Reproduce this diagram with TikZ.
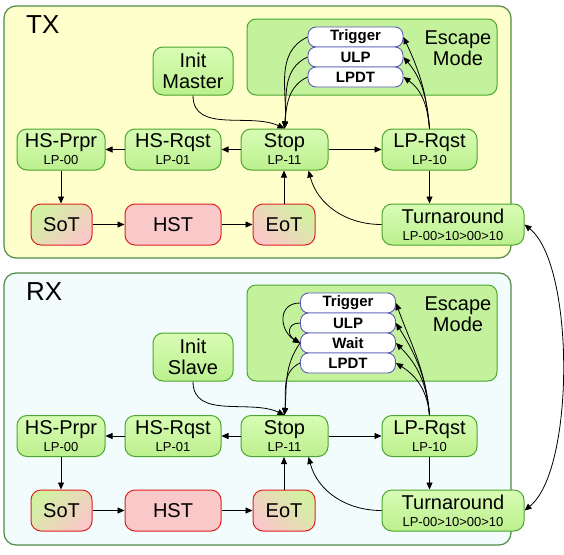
\documentclass[tikz,border=0pt]{standalone}
\usepackage{fontspec}
\setmainfont{Liberation Sans}
\usetikzlibrary{arrows.meta}

\definecolor{txbg}{HTML}{FFFFCC}
\definecolor{rxbg}{HTML}{F2FCFD}
\definecolor{panelborder}{HTML}{4F8A45}
\definecolor{gtop}{HTML}{D8FCB4}
\definecolor{gbot}{HTML}{BCF08E}
\definecolor{gborder}{HTML}{4AA62E}
\definecolor{rborder}{HTML}{E02020}
\definecolor{pinkfill}{HTML}{F9C8C8}
\definecolor{sotgreen}{HTML}{D2F2A2}
\definecolor{escfill}{HTML}{C4F29C}
\definecolor{entryborder}{HTML}{5A5AB8}

\newcommand\mainfs{\fontsize{20}{17}\selectfont}
\newcommand\subfs{\fontsize{13}{17}\selectfont}
\newcommand\twofs{\fontsize{20}{21}\selectfont}

\begin{document}
\begin{tikzpicture}[x=1pt,y=1pt,
  panel/.style={draw=panelborder, line width=1.2pt, rounded corners=12pt},
  gnode/.style={draw=gborder, top color=gtop, bottom color=gbot, line width=1pt, rounded corners=10pt,
    inner sep=0pt, align=center, font=\mainfs, minimum height=41pt},
  rnode/.style={draw=rborder, line width=1pt, rounded corners=10pt,
    inner sep=0pt, font=\mainfs, minimum height=41pt},
  sotshade/.style={top color=sotgreen, bottom color=pinkfill, shading angle=45},
  eotshade/.style={top color=sotgreen, bottom color=pinkfill, shading angle=-45},
  entry/.style={draw=entryborder, fill=white, line width=0.9pt, rounded corners=8pt,
    minimum width=95pt, minimum height=20pt, inner sep=0pt,
    font=\fontsize{15}{15}\selectfont\bfseries},
  escbox/.style={draw=gborder, fill=escfill, line width=1pt, rounded corners=9pt,
    minimum width=250pt, inner sep=0pt},
  esctext/.style={font=\twofs, align=center, inner sep=0pt},
  title/.style={anchor=base west, font=\fontsize{26}{30}\selectfont, inner sep=0pt},
  arr/.style={-{Triangle[length=7pt,width=6pt]}, line width=0.8pt},
  biarr/.style={{Triangle[length=7pt,width=6pt]}-{Triangle[length=7pt,width=6pt]}, line width=0.8pt}
]
\useasboundingbox (0,0) rectangle (564,-554);
\fill[white] (0,0) rectangle (564,-554);

% ================= TX =================
\draw[panel, fill=txbg] (4,-6) rectangle (511,-258);
\node[title] (txlabel) at (26,-33) {TX};
\node[escbox, minimum height=76pt] (txesc) at (372,-57) {};
\node[esctext] (txesclabel) at (458,-48) {Escape\\Mode};
\node[entry] (ttrig) at (355.5,-37) {Trigger};
\node[entry] (tulp) at (355.5,-57) {ULP};
\node[entry] (tlpdt) at (355.5,-77) {LPDT};

\node[gnode, minimum width=80pt, minimum height=48pt, font=\twofs] (tim) at (193,-71) {Init\\Master};
\node[gnode, minimum width=88pt] (thp) at (61,-149.5) {HS-Prpr\\{\subfs LP-00}};
\node[gnode, minimum width=96pt] (thr) at (173,-149.5) {HS-Rqst\\{\subfs LP-01}};
\node[gnode, minimum width=87pt] (tstop) at (284.5,-149.5) {Stop\\{\subfs LP-11}};
\node[gnode, minimum width=95pt] (tlpr) at (429.5,-149.5) {LP-Rqst\\{\subfs LP-10}};
\node[rnode, sotshade, minimum width=61pt] (tsot) at (61.5,-224.5) {SoT};
\node[rnode, fill=pinkfill, minimum width=96pt] (thst) at (173,-224.5) {HST};
\node[rnode, eotshade, minimum width=62pt] (teot) at (284,-224.5) {EoT};
\node[gnode, minimum width=142pt] (tta) at (453,-224.5) {Turnaround\\{\subfs LP-00>10>00>10}};

\draw[arr] (tim.south) to[out=-90,in=155] (tstop.north);
\draw[arr] (tstop.west) -- (thr.east);
\draw[arr] (thr.west) -- (thp.east);
\draw[arr] (thp.south) -- (thp.south |- tsot.north);
\draw[arr] (tsot.east) -- (thst.west);
\draw[arr] (thst.east) -- (teot.west);
\draw[arr] (teot.north) -- (teot.north |- tstop.south);
\draw[arr] (tstop.east) -- (tlpr.west);
\draw[arr] (tlpr.south) -- (tlpr.south |- tta.north);
\draw[arr] (tta.west) to[out=180,in=-75] ([xshift=-20pt]tstop.south east);
\draw[arr] (ttrig.west) to[out=205,in=85] (tstop.north);
\draw[arr] (tulp.west) to[out=205,in=85] (tstop.north);
\draw[arr] (tlpdt.west) to[out=205,in=85] (tstop.north);
\draw[arr] (tlpr.north) to[out=95,in=-65] (ttrig.east);
\draw[arr] (tlpr.north) to[out=95,in=-50] (tulp.east);
\draw[arr] (tlpr.north) to[out=95,in=-35] (tlpdt.east);

% ================= RX =================
\draw[panel, fill=rxbg] (4,-273) rectangle (511,-545);
\node[title] (rxlabel) at (26,-300) {RX};
\node[escbox, minimum height=96pt] (rxesc) at (372,-333) {};
\node[esctext] (rxesclabel) at (458,-314) {Escape\\Mode};
\node[entry] (rtrig) at (348,-303) {Trigger};
\node[entry] (rulp) at (348,-323) {ULP};
\node[entry] (rwait) at (348,-343) {Wait};
\node[entry] (rlpdt) at (348,-363) {LPDT};

\node[gnode, minimum width=80pt, minimum height=48pt, font=\twofs] (ris) at (193,-357) {Init\\Slave};
\node[gnode, minimum width=88pt] (rhp) at (61,-436) {HS-Prpr\\{\subfs LP-00}};
\node[gnode, minimum width=96pt] (rhr) at (173,-436) {HS-Rqst\\{\subfs LP-01}};
\node[gnode, minimum width=87pt] (rstop) at (284.5,-436) {Stop\\{\subfs LP-11}};
\node[gnode, minimum width=95pt] (rlpr) at (429.5,-436) {LP-Rqst\\{\subfs LP-10}};
\node[rnode, sotshade, minimum width=61pt] (rsot) at (61.5,-510.5) {SoT};
\node[rnode, fill=pinkfill, minimum width=96pt] (rhst) at (173,-510.5) {HST};
\node[rnode, eotshade, minimum width=62pt] (reot) at (284,-510.5) {EoT};
\node[gnode, minimum width=142pt] (rta) at (453,-510.5) {Turnaround\\{\subfs LP-00>10>00>10}};

\draw[arr] (ris.south) to[out=-90,in=155] (rstop.north);
\draw[arr] (rstop.west) -- (rhr.east);
\draw[arr] (rhr.west) -- (rhp.east);
\draw[arr] (rhp.south) -- (rhp.south |- rsot.north);
\draw[arr] (rsot.east) -- (rhst.west);
\draw[arr] (rhst.east) -- (reot.west);
\draw[arr] (reot.north) -- (reot.north |- rstop.south);
\draw[arr] (rstop.east) -- (rlpr.west);
\draw[arr] (rlpr.south) -- (rlpr.south |- rta.north);
\draw[arr] (rta.west) to[out=180,in=-75] ([xshift=-20pt]rstop.south east);
\draw[arr] (rtrig.west) to[out=180,in=150,looseness=1.5] (rwait.west);
\draw[arr] (rulp.west) to[out=180,in=150,looseness=1.8] (rwait.west);
\draw[arr] (rwait.west) to[out=235,in=85] (rstop.north);
\draw[arr] (rlpdt.west) to[out=205,in=85] (rstop.north);
\draw[arr] (rlpr.north) to[out=95,in=-70] (rtrig.east);
\draw[arr] (rlpr.north) to[out=95,in=-58] (rulp.east);
\draw[arr] (rlpr.north) to[out=95,in=-45] (rwait.east);
\draw[arr] (rlpr.north) to[out=95,in=-32] (rlpdt.east);

% ============ TX <-> RX turnaround ============
\draw[biarr] (tta.east) .. controls (575,-265) and (575,-470) .. (rta.east);
\end{tikzpicture}
\end{document}
